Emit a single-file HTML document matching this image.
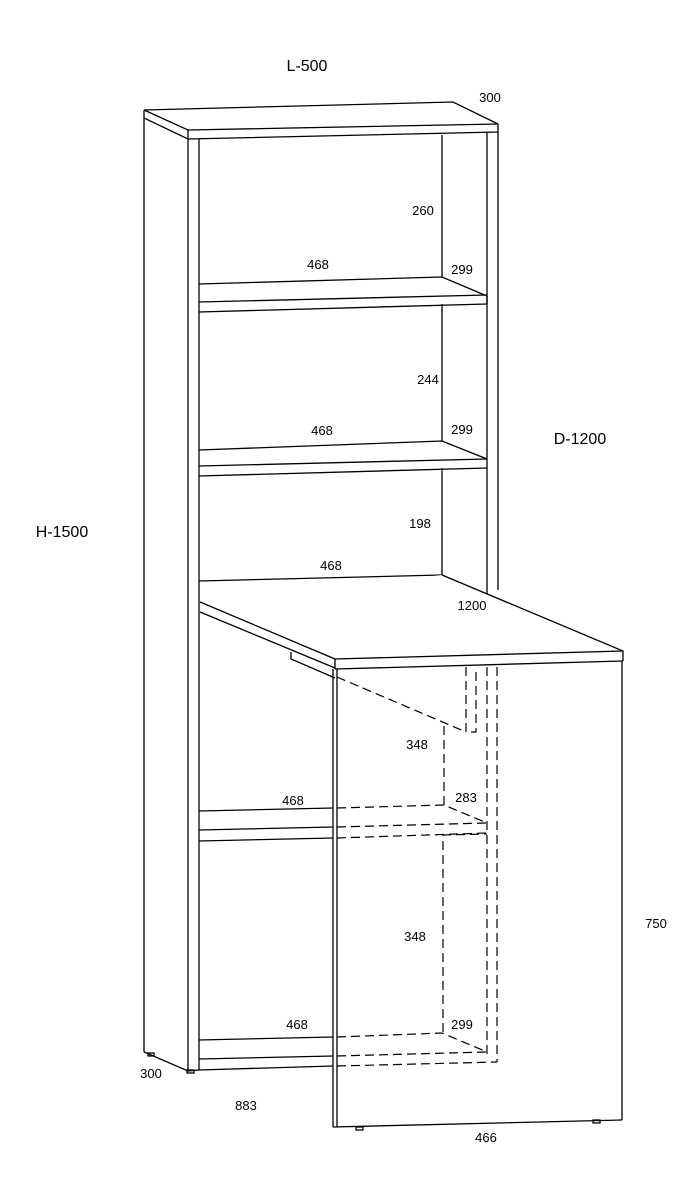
<!DOCTYPE html>
<html><head><style>
body{margin:0;background:#fff}
svg{display:block}
text{font-family:"Liberation Sans",Arial,sans-serif;font-size:13px;fill:#000;text-anchor:middle}
.b{font-size:16px}
</style></head><body>
<svg width="700" height="1200" viewBox="0 0 700 1200">
<g stroke="#000" stroke-width="1.3" fill="none">
<!-- top panel -->
<polygon points="144,110 453,102 498,124 188,130" fill="#fff"/>
<polyline points="144,110 144,118 188,139 498,132 498,124"/>
<line x1="188" y1="130" x2="188" y2="139"/>
<!-- left side panel -->
<line x1="144" y1="118" x2="144" y2="1052"/>
<polyline points="144,1052 188,1071 199,1070"/>
<line x1="188" y1="139" x2="188" y2="1071"/>
<line x1="199" y1="139" x2="199" y2="1070"/>
<rect x="148" y="1053" width="6" height="3"/>
<rect x="187" y="1070" width="7" height="3"/>
<!-- right side panel -->
<line x1="487" y1="132" x2="487" y2="598"/>
<line x1="498" y1="132" x2="498" y2="590"/>
<line x1="442" y1="135" x2="442" y2="277"/>
<line x1="442" y1="304" x2="442" y2="441"/>
<line x1="442" y1="468" x2="442" y2="575"/>
<!-- shelf 1 -->
<polyline points="199,284 442,277 487,296"/>
<line x1="199" y1="302" x2="487" y2="295"/>
<line x1="199" y1="312" x2="487" y2="304"/>
<line x1="487" y1="295" x2="487" y2="304"/>
<!-- shelf 2 -->
<polyline points="199,450 442,441 487,459"/>
<line x1="199" y1="466" x2="487" y2="459"/>
<line x1="199" y1="476" x2="487" y2="468"/>
<!-- desk back line -->
<line x1="199" y1="581" x2="442" y2="575"/>
<!-- desktop -->
<polygon points="442,575 623,651 335,659 200,602" fill="#fff" stroke="none"/>
<polyline points="442,575 623,651 623,661"/>
<line x1="200" y1="602" x2="335" y2="659"/>
<line x1="200" y1="612" x2="335" y2="668"/>
<line x1="335" y1="659" x2="623" y2="651"/>
<line x1="335" y1="669" x2="623" y2="661"/>
<line x1="335" y1="659" x2="335" y2="669"/>
<polyline points="291,652 291,659 335,678"/>
<!-- leg -->
<line x1="333" y1="669" x2="333" y2="1127"/>
<line x1="337" y1="669" x2="337" y2="1127"/>
<line x1="622" y1="661" x2="622" y2="1120"/>
<line x1="333" y1="1127" x2="622" y2="1120"/>
<rect x="356" y="1127" width="7" height="3"/>
<rect x="593" y="1120" width="7" height="3"/>
<!-- shelf 3 solid parts -->
<line x1="199" y1="811" x2="333" y2="808"/>
<line x1="199" y1="830" x2="333" y2="827"/>
<line x1="199" y1="841" x2="333" y2="838"/>
<!-- bottom shelf solid -->
<line x1="199" y1="1040" x2="333" y2="1037"/>
<line x1="199" y1="1059" x2="333" y2="1056"/>
<line x1="199" y1="1070" x2="333" y2="1066"/>
</g>
<g stroke="#000" stroke-width="1.2" fill="none" stroke-dasharray="9,5">
<line x1="337" y1="677" x2="466" y2="732"/>
<polyline points="466,667 466,732 476,732 476,667"/>
<line x1="487" y1="667" x2="487" y2="1058"/>
<line x1="497" y1="667" x2="497" y2="1062"/>
<polyline points="444,805 444,724"/>
<polyline points="337,808 444,805 487,823"/>
<line x1="337" y1="827" x2="487" y2="823"/>
<line x1="337" y1="838" x2="487" y2="833"/>
<polyline points="443,1032 443,835 487,834"/>
<polyline points="337,1037 442,1033 487,1052"/>
<line x1="337" y1="1056" x2="487" y2="1052"/>
<line x1="337" y1="1066" x2="497" y2="1062"/>
</g>
<text class="b" x="307" y="71">L-500</text>
<text x="490" y="102">300</text>
<text x="423" y="215">260</text>
<text x="318" y="269">468</text>
<text x="462" y="274">299</text>
<text x="428" y="384">244</text>
<text x="322" y="435">468</text>
<text x="462" y="434">299</text>
<text class="b" x="580" y="444">D-1200</text>
<text class="b" x="62" y="537">H-1500</text>
<text x="420" y="528">198</text>
<text x="331" y="570">468</text>
<text x="472" y="610">1200</text>
<text x="417" y="749">348</text>
<text x="293" y="805">468</text>
<text x="466" y="802">283</text>
<text x="656" y="928">750</text>
<text x="415" y="941">348</text>
<text x="297" y="1029">468</text>
<text x="462" y="1029">299</text>
<text x="151" y="1078">300</text>
<text x="246" y="1110">883</text>
<text x="486" y="1142">466</text>
</svg>
</body></html>
